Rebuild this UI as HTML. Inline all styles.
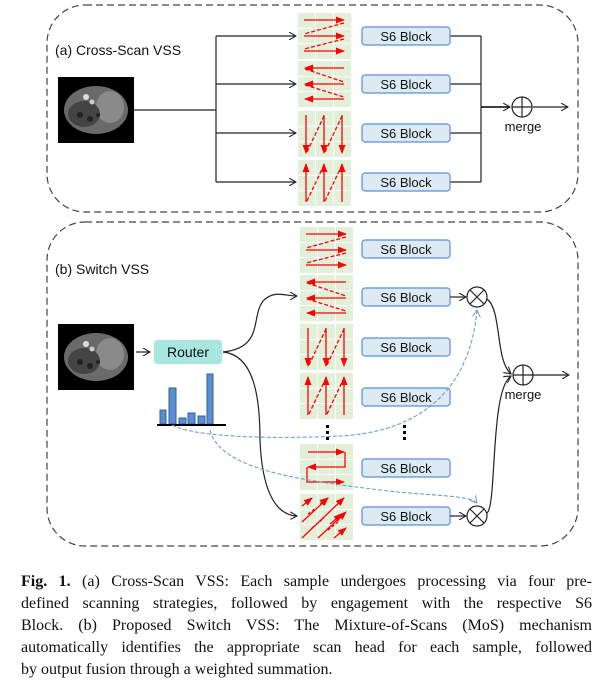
<!DOCTYPE html>
<html><head><meta charset="utf-8"><style>
body{margin:0;width:609px;height:682px;background:#fff;overflow:hidden;position:relative}
svg{position:absolute;left:0;top:0}
.cap{position:absolute;left:21px;width:571px;font-family:"Liberation Serif",serif;font-size:16px;line-height:22px;text-align:justify;text-align-last:justify;white-space:nowrap;color:#111}
</style></head><body>
<svg width="609" height="560" viewBox="0 0 609 560" font-family="Liberation Sans, sans-serif">
<defs>
<marker id="ah" markerWidth="8" markerHeight="8" refX="7" refY="4" orient="auto" markerUnits="userSpaceOnUse"><path d="M0,0 L7,4 L0,8" fill="none" stroke="#222" stroke-width="1.1"/></marker>
<marker id="ab" markerWidth="8" markerHeight="8" refX="7" refY="4" orient="auto" markerUnits="userSpaceOnUse"><path d="M0,0 L7,4 L0,8" fill="none" stroke="#6a9fd4" stroke-width="1"/></marker>
<marker id="ar" markerWidth="9" markerHeight="7" refX="8" refY="3.5" orient="auto" markerUnits="userSpaceOnUse"><path d="M0,0 L9,3.5 L0,7z" fill="#f00" stroke="none"/></marker>
<g id="grid" fill="#e2efd9" stroke="none">
<rect x="0" y="0" width="17" height="15"/><rect x="18" y="0" width="17" height="15"/><rect x="36" y="0" width="17" height="15"/>
<rect x="0" y="16" width="17" height="14"/><rect x="18" y="16" width="17" height="14"/><rect x="36" y="16" width="17" height="14"/>
<rect x="0" y="31" width="17" height="15"/><rect x="18" y="31" width="17" height="15"/><rect x="36" y="31" width="17" height="15"/>
</g>
<g id="p1"><use href="#grid"/><g stroke="#f00" stroke-width="1.3" fill="none">
<g marker-end="url(#ar)"><path d="M6,7H46"/><path d="M6,23H46"/><path d="M6,38H46"/></g>
<path d="M46,10L6,21M46,26L6,36" stroke-dasharray="4,2"/></g></g>
<g id="p2"><use href="#grid"/><g stroke="#f00" stroke-width="1.3" fill="none">
<g marker-end="url(#ar)"><path d="M46,7H7"/><path d="M46,23H7"/><path d="M46,38H7"/></g>
<path d="M7,8L46,21M7,24L46,36" stroke-dasharray="4,2"/></g></g>
<g id="p3"><use href="#grid"/><g stroke="#f00" stroke-width="1.3" fill="none">
<g marker-end="url(#ar)"><path d="M8,4V42"/><path d="M26,4V42"/><path d="M44,4V42"/></g>
<path d="M9,41L26,5M27,41L44,5" stroke-dasharray="4,2"/></g></g>
<g id="p4"><use href="#grid"/><g stroke="#f00" stroke-width="1.3" fill="none">
<g marker-end="url(#ar)"><path d="M8,42V4"/><path d="M26,42V4"/><path d="M44,42V4"/></g>
<path d="M9,41L26,5M27,41L44,5" stroke-dasharray="4,2"/></g></g>
<g id="p5"><use href="#grid"/><g stroke="#f00" stroke-width="1.3" fill="none" marker-end="url(#ar)">
<path d="M8,8H44"/><path d="M45,8V23H8"/><path d="M7,23V38H44"/></g></g>
<g id="p6"><use href="#grid"/><g stroke="#f00" stroke-width="1.3" fill="none">
<g marker-end="url(#ar)"><path d="M2,12L12,4"/><path d="M2,28L28,4"/><path d="M2,44L44,4"/><path d="M18,44L46,18"/><path d="M34,44L46,34"/><path d="M20,10L28,4"/><path d="M30,30L42,20"/></g>
<path d="M8,20L16,14M12,34L24,24M28,36L38,28" stroke-dasharray="3,2"/></g></g>
<g id="img"><rect width="76" height="66" fill="#000"/>
<ellipse cx="38" cy="33" rx="32" ry="24" fill="#6a6a6a"/><ellipse cx="52" cy="30" rx="14" ry="16" fill="#8a8a8a"/><ellipse cx="26" cy="37" rx="16" ry="13" fill="#444"/>
<circle cx="22" cy="38" r="3" fill="#222"/><circle cx="32" cy="42" r="3" fill="#222"/><circle cx="40" cy="38" r="2" fill="#222"/>
<circle cx="28" cy="20" r="3" fill="#ddd"/><circle cx="34" cy="25" r="2.5" fill="#ccc"/></g>
</defs>

<!-- (a) -->
<rect x="47" y="5" width="531" height="207" rx="38" fill="none" stroke="#444" stroke-width="1.2" stroke-dasharray="7,4"/>
<text x="55" y="55" font-size="14" fill="#111">(a) Cross-Scan VSS</text>
<use href="#img" x="58" y="77"/>
<g stroke="#222" stroke-width="1.2" fill="none">
<path d="M134,110H216M216,36V182"/>
<path d="M216,36H296" marker-end="url(#ah)"/><path d="M216,84H296" marker-end="url(#ah)"/>
<path d="M216,133H296" marker-end="url(#ah)"/><path d="M216,182H296" marker-end="url(#ah)"/>
<path d="M450,36H481M450,84H481M450,133H481M450,182H481M481,36V182"/>
<path d="M481,107H510" marker-end="url(#ah)" stroke-width="1.8"/>
<path d="M533,107H568" marker-end="url(#ah)"/>
<circle cx="522" cy="107" r="10"/><path d="M512,107H532M522,97V117"/>
</g>
<text x="523" y="131" font-size="13" text-anchor="middle" fill="#111">merge</text>
<use href="#p1" x="298" y="13"/><use href="#p2" x="298" y="61"/><use href="#p3" x="298" y="111"/><use href="#p4" x="298" y="160"/>
<g font-size="13" fill="#111" text-anchor="middle">
<rect x="362" y="27" width="88" height="18" rx="3" fill="#dbeaf3" stroke="#5b8ed6" stroke-width="1.2"/><text x="406" y="41">S6 Block</text>
<rect x="362" y="75" width="88" height="18" rx="3" fill="#dbeaf3" stroke="#5b8ed6" stroke-width="1.2"/><text x="406" y="89">S6 Block</text>
<rect x="362" y="124" width="88" height="18" rx="3" fill="#dbeaf3" stroke="#5b8ed6" stroke-width="1.2"/><text x="406" y="138">S6 Block</text>
<rect x="362" y="173" width="88" height="18" rx="3" fill="#dbeaf3" stroke="#5b8ed6" stroke-width="1.2"/><text x="406" y="187">S6 Block</text>
</g>

<!-- (b) -->
<rect x="47" y="222" width="531" height="324" rx="38" fill="none" stroke="#444" stroke-width="1.2" stroke-dasharray="7,4"/>
<text x="55" y="274" font-size="14" fill="#111">(b) Switch VSS</text>
<use href="#img" x="58" y="324"/>
<rect x="154" y="340" width="68" height="24" rx="3" fill="#a8e6e0"/>
<text x="188" y="357" font-size="14" text-anchor="middle" fill="#111">Router</text>
<g fill="#5b8ed0" stroke="#2f5fa0" stroke-width="1">
<rect x="160" y="410" width="6" height="14"/><rect x="169" y="388" width="7" height="36"/><rect x="179" y="418" width="7" height="6"/>
<rect x="188" y="413" width="7" height="11"/><rect x="198" y="416" width="7" height="8"/><rect x="207" y="374" width="6" height="50"/></g>
<path d="M157,425H226" stroke="#000" stroke-width="2"/>
<use href="#p1" x="300" y="227"/><use href="#p2" x="300" y="275"/><use href="#p3" x="300" y="324"/><use href="#p4" x="300" y="373"/>
<use href="#p5" x="300" y="444"/><use href="#p6" x="300" y="494"/>
<g fill="#000"><rect x="326" y="425" width="3" height="3"/><rect x="326" y="431" width="3" height="3"/><rect x="326" y="437" width="3" height="3"/>
<rect x="403" y="425" width="3" height="3"/><rect x="403" y="431" width="3" height="3"/><rect x="403" y="437" width="3" height="3"/></g>
<g font-size="13" fill="#111" text-anchor="middle">
<rect x="362" y="240" width="88" height="18" rx="3" fill="#dbeaf3" stroke="#5b8ed6" stroke-width="1.2"/><text x="406" y="254">S6 Block</text>
<rect x="362" y="288" width="88" height="18" rx="3" fill="#dbeaf3" stroke="#5b8ed6" stroke-width="1.2"/><text x="406" y="302">S6 Block</text>
<rect x="362" y="338" width="88" height="18" rx="3" fill="#dbeaf3" stroke="#5b8ed6" stroke-width="1.2"/><text x="406" y="352">S6 Block</text>
<rect x="362" y="388" width="88" height="18" rx="3" fill="#dbeaf3" stroke="#5b8ed6" stroke-width="1.2"/><text x="406" y="402">S6 Block</text>
<rect x="362" y="459" width="88" height="18" rx="3" fill="#dbeaf3" stroke="#5b8ed6" stroke-width="1.2"/><text x="406" y="473">S6 Block</text>
<rect x="362" y="507" width="88" height="18" rx="3" fill="#dbeaf3" stroke="#5b8ed6" stroke-width="1.2"/><text x="406" y="521">S6 Block</text>
</g>
<g stroke="#222" stroke-width="1.2" fill="none">
<path d="M136,352H150" marker-end="url(#ah)"/>
<path d="M223,352C265,348 250,315 264,300C275,290 285,296 297,296" marker-end="url(#ah)"/>
<path d="M223,352C255,355 260,400 260,440C262,490 275,515 297,516" marker-end="url(#ah)"/>
<path d="M450,297H466" marker-end="url(#ah)"/><path d="M450,516H466" marker-end="url(#ah)"/>
<circle cx="477" cy="297" r="10"/><path d="M470,290L484,304M484,290L470,304"/>
<circle cx="477" cy="516" r="10"/><path d="M470,509L484,523M484,509L470,523"/>
<path d="M487,299C502,310 495,360 511,374" marker-end="url(#ah)"/>
<path d="M487,513C497,505 490,390 511,376" marker-end="url(#ah)"/>
<circle cx="523" cy="375" r="10"/><path d="M513,375H533M523,365V385"/>
<path d="M533,375H569" marker-end="url(#ah)"/>
</g>
<text x="523" y="399" font-size="13" text-anchor="middle" fill="#111">merge</text>
<g stroke="#6a9fd4" stroke-width="1.1" fill="none" stroke-dasharray="4,2">
<path d="M172,425C200,440 300,438 340,436C420,432 470,390 477,310" marker-end="url(#ab)"/>
<path d="M210,430C220,470 300,480 380,490C430,496 470,495 477,503" marker-end="url(#ab)"/>
</g>
</svg>
<div class="cap" style="top:571px"><b>Fig. 1.</b> (a) Cross-Scan VSS: Each sample undergoes processing via four pre-</div>
<div class="cap" style="top:593px">defined scanning strategies, followed by engagement with the respective S6</div>
<div class="cap" style="top:615px">Block. (b) Proposed Switch VSS: The Mixture-of-Scans (MoS) mechanism</div>
<div class="cap" style="top:637px">automatically identifies the appropriate scan head for each sample, followed</div>
<div class="cap" style="top:659px;text-align-last:left">by output fusion through a weighted summation.</div>
</body></html>
